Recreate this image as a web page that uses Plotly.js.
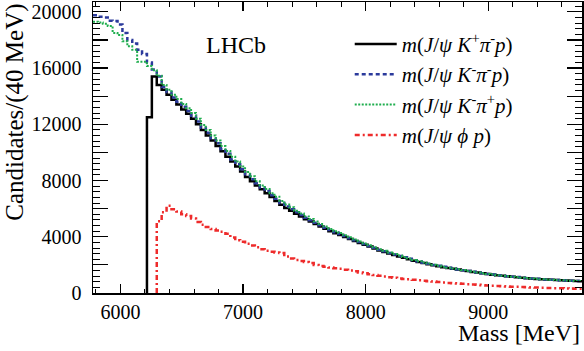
<!DOCTYPE html>
<html>
<head>
<meta charset="utf-8">
<script src="https://cdn.plot.ly/plotly-3.0.1.min.js"></script>
<style>
  html, body { margin: 0; padding: 0; background: #fff; }
  #plot { width: 584px; height: 351px; }
</style>
</head>
<body>
<div id="plot"></div>
<script>
// 40 MeV bins starting at 5776 MeV
const binStart = 5776;
const binWidth = 40;

const kpipBlack = [0,0,0,0,0,0,0,0,0,0,0,
  12500,15400,14800,14450,14100,13750,13400,13050,12750,12400,
  12000,11600,11200,10850,10450,10080,9700,9350,9000,8650,
  8250,7950,7650,7380,7100,6820,6550,6270,6050,5850,
  5640,5450,5250,5080,4900,4730,4570,4400,4250,4120,
  3980,3850,3700,3560,3430,3300,3160,3030,2920,2810,
  2700,2600,2500,2400,2300,2210,2130,2050,1980,1910,
  1840,1780,1720,1670,1610,1560,1500,1450,1400,1350,
  1300,1260,1220,1190,1150,1120,1080,1050,1020,1000,
  975,955,940,925,910,890,870,855,840];

const kmpimBlue = [19750,19650,19600,19370,19350,19100,18500,18000,17750,17300,17000,16400,15900,15400,
  14650,14300,13900,13600,13250,12950,12600,
  12200,11750,11400,11000,10650,10250,9900,9500,9150,8800,
  8450,8100,7800,7500,7250,6950,6700,6400,6150,5950,
  5750,5550,5350,5180,5000,4820,4650,4480,4330,4190,
  4050,3900,3760,3620,3490,3350,3210,3080,2970,2850,
  2740,2640,2540,2430,2330,2240,2160,2080,2000,1930,
  1860,1800,1740,1680,1620,1570,1510,1460,1410,1360,
  1310,1270,1230,1200,1160,1130,1090,1060,1030,1010,
  985,960,945,930,915,895,875,860,845];

const kmpipGreen = [19300,19250,19150,19000,18500,18350,17900,17550,17300,16450,16450,16150,15850,15450,
  14800,14450,14100,13800,13450,13150,12800,
  12400,11950,11600,11200,10850,10450,10100,9700,9350,9000,
  8600,8300,7950,7650,7400,7100,6850,6550,6300,6100,
  5850,5650,5450,5270,5080,4900,4730,4560,4400,4260,
  4110,3960,3810,3660,3530,3390,3250,3110,3000,2880,
  2770,2660,2560,2450,2350,2260,2170,2090,2010,1940,
  1870,1800,1740,1690,1630,1570,1520,1460,1410,1360,
  1320,1270,1230,1200,1160,1130,1090,1060,1030,1010,
  980,960,945,930,915,895,875,860,845];

const phipRed = [0,0,0,0,0,0,0,0,0,0,0,0,0,
  5100,5750,6200,5950,5800,5600,5480,5300,5050,4850,4700,4550,4450,4350,4220,3950,3750,3650,
  3500,3380,3250,3120,3000,2930,2880,2850,2600,2450,2350,2280,2200,2130,2000,1920,1870,1820,1760,
  1720,1660,1600,1540,1450,1400,1330,1280,1220,1170,1120,1080,1040,1000,970,940,900,870,840,810,
  780,750,720,690,670,650,630,600,580,560,540,520,500,485,470,450,440,420,405,395,385,370,360,350,
  340,330,320,315,305,300];

const legendNames = [
  '<i>m</i>(<i>J</i>/<i>ψ K</i><sup>+</sup><i>π</i><sup>-</sup><i>p</i>)',
  '<i>m</i>(<i>J</i>/<i>ψ K</i><sup>-</sup><i>π</i><sup>-</sup><i>p</i>)',
  '<i>m</i>(<i>J</i>/<i>ψ K</i><sup>-</sup><i>π</i><sup>+</sup><i>p</i>)',
  '<i>m</i>(<i>J</i>/<i>ψ ϕ p</i>)'
];

const serif = 'Liberation Serif';

// histogram drawn as steps; empty leading bins are left out, the rise starts from zero
function stepTrace(values, name, line) {
  const xs = [], ys = [];
  let started = false;
  values.forEach((v, i) => {
    const edge = binStart + i * binWidth;
    if (!started && v === 0) return;
    if (!started && i > 0) { xs.push(edge); ys.push(0); }
    started = true;
    xs.push(edge); ys.push(v);
  });
  xs.push(binStart + values.length * binWidth);
  ys.push(values[values.length - 1]);
  return { x: xs, y: ys, name: name, type: 'scatter', mode: 'lines',
           line: Object.assign({ shape: 'hv' }, line) };
}

const traces = [
  stepTrace(kpipBlack, legendNames[0], { color: '#000000', width: 2.5 }),
  stepTrace(kmpimBlue, legendNames[1], { color: '#2b3a9c', width: 2.5, dash: '4px,3px' }),
  stepTrace(kmpipGreen, legendNames[2], { color: '#1fae4e', width: 2, dash: '2px,1.5px' }),
  stepTrace(phipRed, legendNames[3], { color: '#ee2b2b', width: 2.5, dash: '5px,3px,2px,3px' })
];

const yTicks = [0,2000,4000,6000,8000,10000,12000,14000,16000,18000,20000];
const yTickText = yTicks.map(v => (v % 4000 === 0 ? String(v) : ''));

const layout = {
  width: 584, height: 351,
  margin: { l: 93, r: 2, t: 2, b: 58 },
  paper_bgcolor: '#fff', plot_bgcolor: '#fff',
  font: { family: serif, size: 20, color: '#000' },
  showlegend: true,
  legend: {
    x: 0.525, y: 0.925, xanchor: 'left', yanchor: 'top',
    bgcolor: 'rgba(0,0,0,0)', borderwidth: 0,
    font: { family: serif, size: 21, color: '#000' },
    itemwidth: 42
  },
  xaxis: {
    range: [5776, 9764],
    showgrid: false, zeroline: false,
    showline: true, linecolor: '#000', linewidth: 1.5, mirror: 'ticks',
    ticks: 'inside', ticklen: 9, tickwidth: 1.2, tickcolor: '#000',
    dtick: 1000, tick0: 0,
    minor: { dtick: 200, ticks: 'inside', ticklen: 4.5, tickcolor: '#000', tickwidth: 1 },
    tickfont: { family: serif, size: 20 },
    ticklabelstandoff: 0
  },
  yaxis: {
    range: [0, 20700],
    showgrid: false, zeroline: false,
    showline: true, linecolor: '#000', linewidth: 1.5, mirror: 'ticks',
    ticks: 'inside', ticklen: 15, tickwidth: 1.2, tickcolor: '#000',
    tickmode: 'array', tickvals: yTicks, ticktext: yTickText,
    minor: { dtick: 400, ticks: 'inside', ticklen: 7, tickcolor: '#000', tickwidth: 1 },
    tickfont: { family: serif, size: 20 },
    ticklabelstandoff: 6
  },
  annotations: [
    { text: 'LHCb', xref: 'paper', yref: 'paper', x: 0.292, y: 0.852,
      xanchor: 'center', yanchor: 'middle', showarrow: false,
      font: { family: serif, size: 24, color: '#000' } },
    { text: 'Candidates/(40 MeV)', xref: 'paper', yref: 'paper', x: -0.161, y: 1.0,
      xanchor: 'center', yanchor: 'top', textangle: -90, showarrow: false,
      font: { family: serif, size: 25, color: '#000' } },
    { text: 'Mass [MeV]', xref: 'paper', yref: 'paper', x: 1.0, y: -0.138,
      xanchor: 'right', yanchor: 'middle', showarrow: false,
      font: { family: serif, size: 24, color: '#000' } }
  ]
};

Plotly.newPlot('plot', traces, layout, { displayModeBar: false, staticPlot: true });
</script>
</body>
</html>
